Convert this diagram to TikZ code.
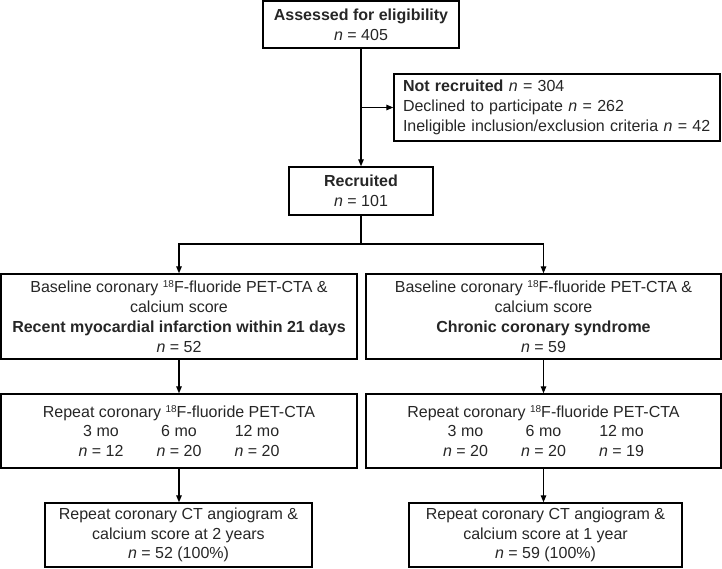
\documentclass[tikz,border=0pt]{standalone}
\usepackage{fontspec}
\setmainfont{Liberation Sans}
\usetikzlibrary{arrows.meta}
\newcommand{\nn}{\textit{n}}
\newcommand{\supe}{\raisebox{0.32em}{\fontsize{10}{10}\selectfont 18}}
\newcommand{\cols}[3]{\makebox[78pt]{#1}\makebox[78pt]{#2}\makebox[78pt]{#3}}
\begin{document}
\begin{tikzpicture}[x=1pt,y=-1pt,
  box/.style={draw, line width=1.4pt, inner sep=0pt, align=center, font=\fontsize{16}{19.7}\selectfont, text=black!85},
  conn/.style={line width=1.3pt},
  arr/.style={conn,-{Triangle[length=7pt,width=5.5pt]}}]
\useasboundingbox (0,0) rectangle (722,569);
\node[box, minimum width=196pt, minimum height=47pt] (assess) at (361,24.5)
  {\textbf{Assessed for eligibility}\\\nn{} = 405};
\node[box, text width=308pt, inner xsep=9pt, align=left, minimum height=67pt] (nr) at (557,107.5)
  {\textbf{Not recruited} \nn{} = 304\\Declined to participate \nn{} = 262\\Ineligible inclusion/exclusion criteria \nn{} = 42};
\node[box, minimum width=144pt, minimum height=48pt] (recr) at (361,191)
  {\textbf{Recruited}\\\nn{} = 101};
\node[box, minimum width=356pt, minimum height=85pt] (base1) at (179,316.5)
  {Baseline coronary \supe F-fluoride PET-CTA \&\\calcium score\\\textbf{Recent myocardial infarction within 21 days}\\\nn{} = 52};
\node[box, minimum width=355pt, minimum height=85pt] (base2) at (543.5,316.5)
  {Baseline coronary \supe F-fluoride PET-CTA \&\\calcium score\\\textbf{Chronic coronary syndrome}\\\nn{} = 59};
\node[box, minimum width=356pt, minimum height=74pt] (rep1) at (179,431)
  {Repeat coronary \supe F-fluoride PET-CTA\\\cols{3 mo}{6 mo}{12 mo}\\\cols{\nn{} = 12}{\nn{} = 20}{\nn{} = 20}};
\node[box, minimum width=355pt, minimum height=74pt] (rep2) at (543.5,431)
  {Repeat coronary \supe F-fluoride PET-CTA\\\cols{3 mo}{6 mo}{12 mo}\\\cols{\nn{} = 20}{\nn{} = 20}{\nn{} = 19}};
\node[box, minimum width=267pt, minimum height=64pt] (fin1) at (178.5,535)
  {Repeat coronary CT angiogram \&\\calcium score at 2 years\\\nn{} = 52 (100\%)};
\node[box, minimum width=273pt, minimum height=64pt] (fin2) at (545.5,535)
  {Repeat coronary CT angiogram \&\\calcium score at 1 year\\\nn{} = 59 (100\%)};
\coordinate (split) at (361,244);
\draw[arr] (assess.south) -- (recr.north);
\draw[arr] (assess.south |- nr.west) -- (nr.west);
\draw[conn] (recr.south) -- (split);
\draw[arr] (split) -| (base1.north);
\draw[arr] (split) -| (base2.north);
\draw[arr] (base1.south) -- (rep1.north);
\draw[arr] (base2.south) -- (rep2.north);
\draw[arr] (rep1.south) -- (rep1.south |- fin1.north);
\draw[arr] (rep2.south) -- (rep2.south |- fin2.north);
\end{tikzpicture}
\end{document}
